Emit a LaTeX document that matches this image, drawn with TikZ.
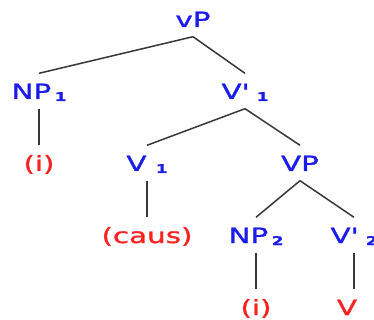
\documentclass[tikz,border=0pt]{standalone}
\usepackage{fontspec}
\newfontfamily\labfont[FakeStretch=1.4, FakeBold=1.3]{DejaVu Sans}
\definecolor{catblue}{RGB}{28,28,232}
\definecolor{wordred}{RGB}{248,34,34}
\definecolor{branch}{RGB}{55,55,55}
% small, slightly lowered index digit
\newcommand\idx[1]{\raisebox{-2pt}{\fontsize{12}{12}\selectfont\bfseries #1}}
\newcommand\prm{\textquotesingle}
\tikzset{
  lab/.style={font=\labfont\fontsize{21}{21}\selectfont, text height=16pt, text depth=0pt,
    inner xsep=0pt, inner ysep=9.5pt, anchor=base},
  cat/.style={lab, text=catblue},
  word/.style={lab, text=wordred},
  edge/.style={draw=branch, line width=1.5pt},
}
\begin{document}
\begin{tikzpicture}[x=1pt, y=-1pt]
  \useasboundingbox (0,0) rectangle (374,320);
  % categories
  \node[cat] (vP)   at (193,27)  {vP};
  \node[cat] (NPa)  at (39,99)   {NP\,\idx{1}};
  \node[cat] (Vba)  at (245,99)  {V\prm\ \idx{1}};
  \node[cat] (Va)   at (147,171) {V\ \idx{1}};
  \node[cat] (VP)   at (300,171) {VP};
  \node[cat] (NPb)  at (256,243) {NP\,\idx{2}};
  \node[cat] (Vbb)  at (354,243) {V\prm\ \idx{2}};
  % lexical material
  \node[word] (ia)   at (39,171)  {(i)};
  \node[word] (caus) at (147,243) {(caus)};
  \node[word] (ib)   at (256,315) {(i)};
  \node[word] (V)    at (347,315) {V};
  % branches
  \draw[edge] (vP.south) -- (NPa.north);
  \draw[edge] (vP.south) -- (Vba.north);
  \draw[edge] (NPa.south) -- (ia.north);
  \draw[edge] (Vba.south) -- (Va.north);
  \draw[edge] (Vba.south) -- (VP.north);
  \draw[edge] (Va.south) -- (caus.north);
  \draw[edge] (VP.south) -- (NPb.north);
  \draw[edge] (VP.south) -- (Vbb.north);
  \draw[edge] (NPb.south) -- (ib.north);
  \draw[edge] (Vbb.south) -- (Vbb.south |- V.north);
\end{tikzpicture}
\end{document}
